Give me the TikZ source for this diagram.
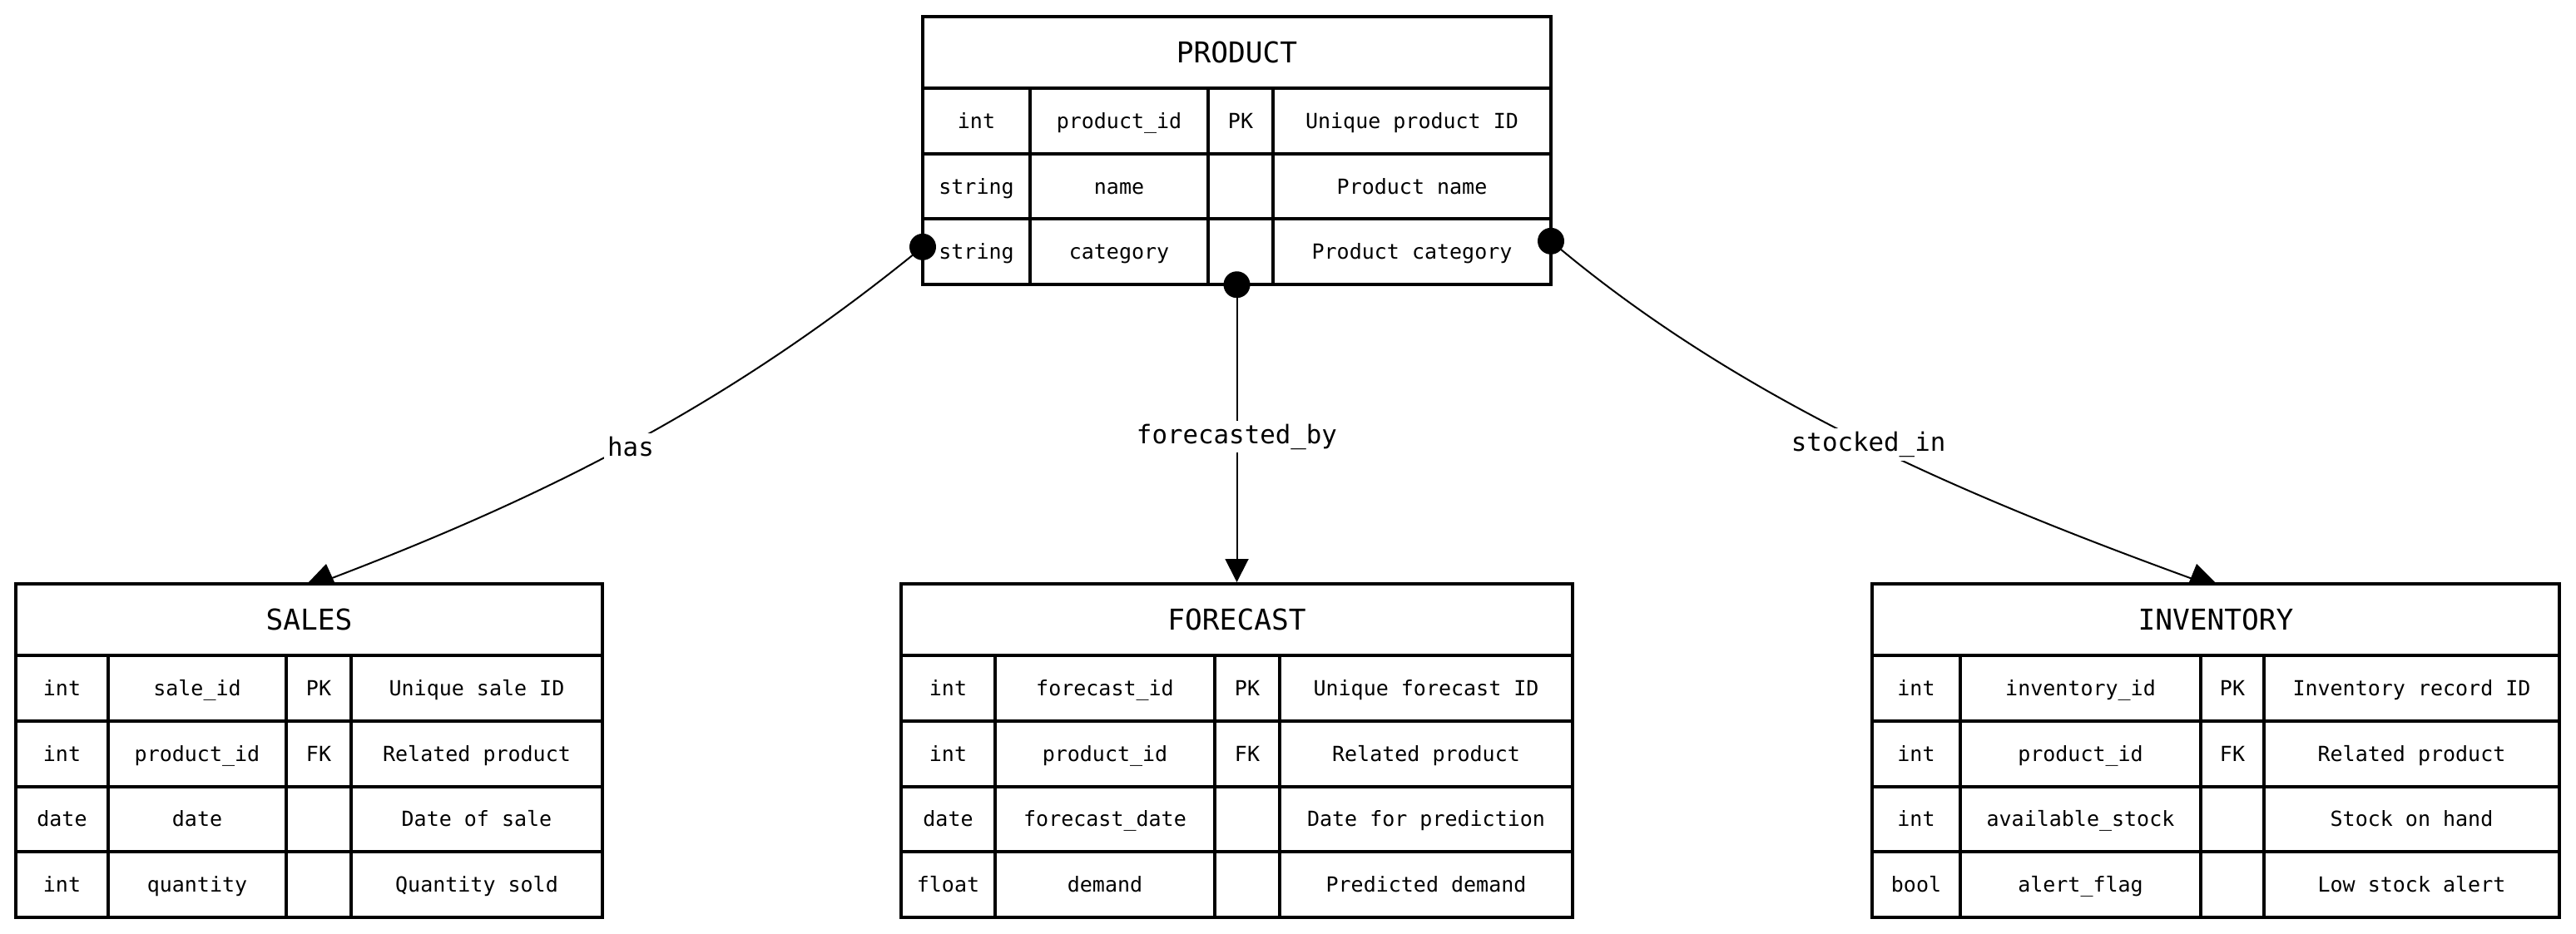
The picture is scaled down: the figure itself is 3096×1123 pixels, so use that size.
\documentclass[tikz,border=0pt]{standalone}
\usepackage{fontspec}
\setmonofont{DejaVu Sans Mono}
\usetikzlibrary{arrows.meta,positioning}

% one entity table: name, position, title, column widths (px), rows
\newcommand{\ertable}[5]{%
  \foreach \wA/\wB/\wC/\wD in {#4}{%
    \node[head, minimum width={(\wA+\wB+\wC+\wD)*0.5pt}] (#1) at #2 {#3};
    \foreach \fA/\fB/\fC/\fD [count=\i] in {#5}{%
      \node[cell, minimum width=\wA*0.5pt] (#1-\i-1) at ([yshift={-(\i-1)*39.375pt}]#1.south west) {\fA};
      \node[cell, minimum width=\wB*0.5pt, right=0pt of #1-\i-1] (#1-\i-2) {\fB};
      \node[cell, minimum width=\wC*0.5pt, right=0pt of #1-\i-2] (#1-\i-3) {\fC};
      \node[cell, minimum width=\wD*0.5pt, right=0pt of #1-\i-3] (#1-\i-4) {\fD};
    }
  }%
}

\begin{document}
\begin{tikzpicture}[x=0.5pt, y=-0.5pt,
    head/.style={draw, line width=2pt, fill=white, anchor=north west, inner sep=0pt, outer sep=0pt,
      minimum height=43pt, font=\ttfamily\fontsize{17.25}{20}\selectfont, text height=12.6pt, text depth=0pt},
    cell/.style={draw, line width=2pt, fill=white, anchor=north west, inner sep=0pt, outer sep=0pt,
      minimum height=39.375pt, font=\ttfamily\fontsize{12.5}{15}\selectfont, text height=9.1pt, text depth=0pt},
    edge/.style={line width=1pt},
    elabel/.style={fill=white, inner sep=2pt, font=\ttfamily\fontsize{15.4}{18}\selectfont},
    enddot/.style={circle, fill, inner sep=0pt, minimum size=16pt}]
  \useasboundingbox (0,0) rectangle (3096,1123);

  \ertable{product}{(1109,20)}{PRODUCT}{129/214/78/334}{%
    int/product\_id/PK/Unique product ID,
    string/name//Product name,
    string/category//Product category}
  \ertable{sales}{(19,702)}{SALES}{111/214/78/302}{%
    int/sale\_id/PK/Unique sale ID,
    int/product\_id/FK/Related product,
    date/date//Date of sale,
    int/quantity//Quantity sold}
  \ertable{forecast}{(1083,702)}{FORECAST}{113/264/78/352}{%
    int/forecast\_id/PK/Unique forecast ID,
    int/product\_id/FK/Related product,
    date/forecast\_date//Date for prediction,
    float/demand//Predicted demand}
  \ertable{inventory}{(2250,702)}{INVENTORY}{106/289/76/355}{%
    int/inventory\_id/PK/Inventory record ID,
    int/product\_id/FK/Related product,
    int/available\_stock//Stock on hand,
    bool/alert\_flag//Low stock alert}

  % relationship ends
  \node[enddot] (has-tail) at ([yshift=3pt]product-3-1.west) {};
  \node[enddot] (fc-tail) at (product.center |- product-3-3.south) {};
  \node[enddot] (stock-tail) at ([yshift=6.5pt]product-3-4.east) {};
  \coordinate (has-head) at ([shift={(7.25pt,1pt)}]sales.north);
  \coordinate (stock-head) at ([shift={(-8.5pt,1pt)}]inventory.north);

  \draw[edge] (has-tail.center) .. controls (873,490) and (650,600) .. (has-head)
    node[elabel, pos=.5, yshift=-2pt] {has};
  \fill (has-head) ++(-15,0) -- ++(31,0) -- ++(-10,-22) -- cycle;

  \draw[edge, -{Triangle[length=14pt, width=14pt]}] (fc-tail.center) -- ([yshift=1pt]forecast.north)
    node[elabel, pos=.5, yshift=-2pt] {forecasted\_by};

  \draw[edge] (stock-tail.center) .. controls (2100,490) and (2385,605) .. (stock-head)
    node[elabel, pos=.5] {stocked\_in};
  \fill (stock-head) ++(-15,0) -- ++(31,0) -- ++(-22,-22) -- cycle;
\end{tikzpicture}
\end{document}
